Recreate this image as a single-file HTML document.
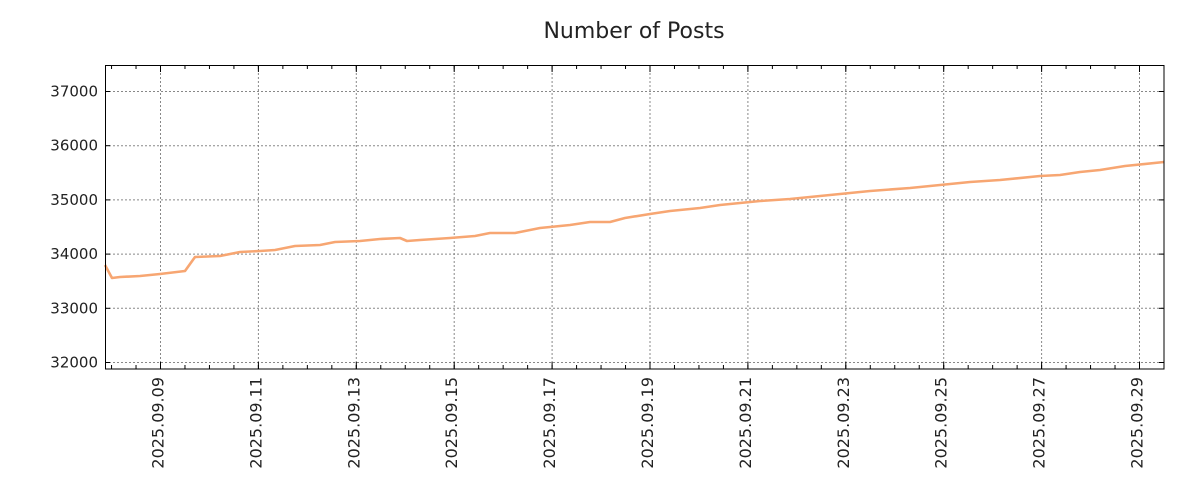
<!DOCTYPE html>
<html><head><meta charset="utf-8"><style>body{margin:0;background:#fff}svg{display:block}</style></head>
<body>
<svg id="s" width="1200" height="500" xmlns="http://www.w3.org/2000/svg" font-family="DejaVu Sans, sans-serif">
<rect width="1200" height="500" fill="#fff"/>
<text x="634" y="38" font-size="22" text-anchor="middle" fill="#222">Number of Posts</text>
<g id="grid" stroke="#888" stroke-width="1" stroke-dasharray="2,2"></g>
<polyline fill="none" stroke="#f7a672" stroke-width="2.6" stroke-linejoin="round" points="105,265 112,278 120,277 140,276 160,274 185,271 195,257 220,256 240,252 260,251 275,250 295,246 320,245 335,242 360,241 380,239 400,238 407,241 420,240 450,238 475,236 490,233 515,233 540,228 570,225 590,222 610,222 625,218 650,214 670,211 700,208 720,205 740,203 760,201 790,199 810,197 840,194 870,191 910,188 940,185 970,182 1000,180 1040,176 1060,175 1080,172 1100,170 1125,166 1164,162"/>
<g id="ticks" stroke="#000" stroke-width="1"></g>
<rect x="105.5" y="65.5" width="1058.5" height="303.5" fill="none" stroke="#000" stroke-width="1"/>
<g id="labels" font-size="15" fill="#222"></g>
</svg>
<script>
var NS="http://www.w3.org/2000/svg";
function el(p,t,a,txt){var e=document.createElementNS(NS,t);for(var k in a)e.setAttribute(k,a[k]);if(txt)e.textContent=txt;document.getElementById(p).appendChild(e);}
var ys=[37000,36000,35000,34000,33000,32000];
ys.forEach(function(v,i){var y=91.5+i*54.2;
 el("grid","line",{x1:105,x2:1164,y1:y,y2:y});
 el("ticks","line",{x1:105,x2:110,y1:y,y2:y});
 el("ticks","line",{x1:1164,x2:1159,y1:y,y2:y});
 el("labels","text",{x:98,y:y+5,"text-anchor":"end"},String(v));});
var d=48.95;
for(var x=160.5-d;x<1164;x+=d/2){ if(x<106)continue;
 el("ticks","line",{x1:x,x2:x,y1:369,y2:365});el("ticks","line",{x1:x,x2:x,y1:65,y2:69});}
for(var i=0;i<11;i++){var x=160.5+i*2*d;
 el("grid","line",{x1:x,x2:x,y1:65,y2:369});
 el("ticks","line",{x1:x,x2:x,y1:369,y2:362});el("ticks","line",{x1:x,x2:x,y1:65,y2:72});
 var day=9+2*i;var lab="2025.09."+(day<10?"0":"")+day;
 el("labels","text",{x:0,y:0,"text-anchor":"end","font-size":"16",transform:"translate("+(x+3)+",377) rotate(-90)"},lab);}
</script>
</body></html>
